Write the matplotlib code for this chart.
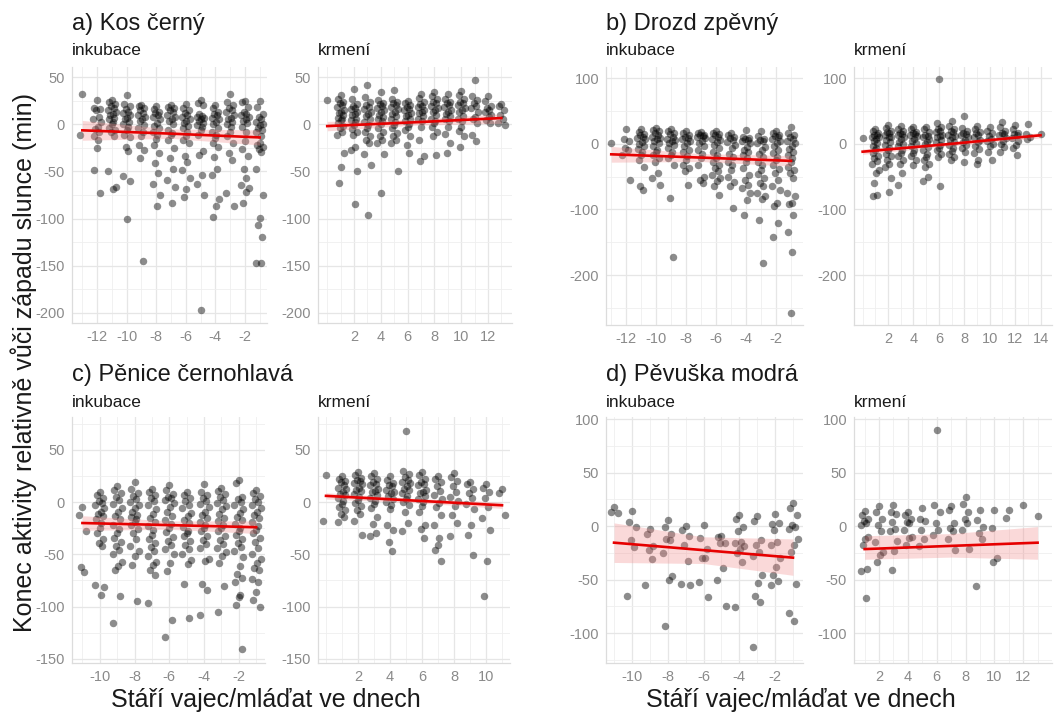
import matplotlib
matplotlib.use('Agg')
import matplotlib.pyplot as plt

W, H = 1054, 715
plt.rcParams['font.family'] = ['Liberation Sans', 'DejaVu Sans']
plt.rcParams['axes.unicode_minus'] = False

# ---------------- data (y values per day) ----------------
A_INK = {
    -13: [32, -11],
    -12: [26, 17, 16, 15, 8, 5, 2, -3, -5, -8, -13, -17, -25, -48, -73],
    -11: [26, 24, 21, 19, 17, 15, 13, 11, 10, 7, 5, 2, 0, -4, -6, -8, -13, -50, -66, -69],
    -10: [31, 21, 19, 16, 13, 12, 10, 7, 5, 2, 0, -3, -6, -11, -14, -24, -28, -55, -60, -100],
    -9: [20, 19, 17, 15, 12, 10, 8, 5, 3, -1, -4, -8, -13, -22, -27, -36, -145],
    -8: [19, 16, 13, 12, 10, 8, 5, 1, -2, -4, -8, -11, -16, -22, -30, -41, -52, -63, -75, -87],
    -7: [20, 18, 17, 15, 13, 10, 8, 5, 3, 0, -6, -9, -11, -17, -25, -36, -47, -59, -66, -84],
    -6: [21, 17, 15, 12, 10, 8, 5, 3, 1, -2, -4, -8, -13, -17, -20, -34, -40, -48, -57, -69, -77],
    -5: [26, 22, 20, 11, 9, 8, 7, 5, 3, 1, -1, -3, -6, -11, -28, -33, -54, -63, -75, -197],
    -4: [20, 17, 13, 11, 10, 7, 5, 2, 0, -4, -8, -11, -15, -20, -24, -35, -47, -54, -79, -87, -98],
    -3: [32, 24, 20, 17, 15, 13, 10, 7, 5, 2, 0, -3, -8, -13, -20, -31, -38, -73, -87],
    -2: [25, 23, 18, 13, 11, 10, 8, 6, 3, 1, -3, -8, -18, -26, -34, -47, -57, -64, -68, -72, -83],
    -1: [25, 18, 11, 8, 5, 2, 0, -1, -4, -6, -8, -13, -20, -22, -24, -26, -29, -47, -75, -99, -107, -119, -147, -147],
}
A_KRM = {
    0: [26],
    1: [31, 27, 24, 22, 20, 18, 15, 13, 12, 10, 7, 5, 4, 1, -2, -4, -8, -11, -30, -45, -62],
    2: [37, 27, 21, 19, 17, 16, 13, 11, 10, 6, 4, 2, -1, -5, -8, -11, -24, -27, -50, -85],
    3: [42, 29, 24, 20, 18, 16, 13, 11, 9, 6, 2, -1, -4, -8, -13, -17, -20, -32, -43, -96],
    4: [34, 26, 22, 21, 19, 17, 15, 13, 10, 8, 6, 3, 0, -4, -8, -13, -17, -20, -32, -73],
    5: [36, 27, 24, 22, 20, 18, 16, 13, 11, 9, 5, 2, -1, -4, -9, -13, -17, -20, -50],
    6: [25, 22, 20, 18, 16, 15, 12, 10, 9, 6, 3, 0, -3, -6, -13, -22, -30],
    7: [32, 28, 24, 21, 19, 18, 15, 13, 12, 9, 6, 3, -3, -17, -34, -39],
    8: [34, 30, 27, 24, 22, 19, 17, 15, 13, 10, 6, 3, 1, -3, -8, -13, -33],
    9: [32, 27, 24, 22, 20, 18, 15, 13, 11, 9, 6, 3, -3, -10, -20, -31],
    10: [35, 31, 27, 24, 22, 20, 17, 15, 13, 9, 6, 3, -3, -7, -12, -24],
    11: [47, 30, 26, 22, 19, 17, 13, 8, 5, 1, -11, -18],
    12: [30, 25, 19, 17, 15, 13, 10, 8, 4, 1],
    13: [21, 19, 15, 10, 6, 1, -1],
}
B_INK = {
    -13: [1],
    -12: [22, 8, 5, -7, -10, -17, -55],
    -11: [22, 18, 15, 13, 11, 9, 7, 3, 0, -4, -8, -12, -17, -25, -35, -65, -70],
    -10: [24, 21, 19, 17, 14, 11, 9, 7, 4, 1, -3, -9, -13, -17, -22, -27, -45, -52, -63],
    -9: [22, 19, 17, 15, 11, 8, 6, 4, 1, -2, -6, -12, -17, -22, -32, -83, -173],
    -8: [20, 17, 14, 11, 9, 7, 4, 1, -3, -9, -13, -19, -24, -32, -37, -42, -63],
    -7: [18, 16, 14, 13, 12, 11, 9, 5, 1, -3, -9, -16, -22, -32, -50, -55, -60],
    -6: [20, 17, 15, 13, 10, 8, 6, 2, -2, -7, -12, -17, -22, -27, -32, -37, -42, -48, -52, -57, -65, -78],
    -5: [17, 13, 11, 9, 6, 2, -2, -7, -15, -20, -27, -33, -40, -50, -58, -65, -98],
    -4: [21, 10, 9, 8, 6, 5, 1, -5, -9, -13, -17, -22, -27, -37, -48, -55, -63, -68, -75, -85, -108],
    -3: [19, 12, 8, 6, 4, 1, -5, -10, -15, -20, -27, -33, -40, -46, -52, -60, -65, -75, -80, -84, -116, -182],
    -2: [20, 16, 14, 12, 10, 8, 4, 1, -4, -9, -14, -20, -25, -32, -38, -45, -55, -65, -70, -90, -94, -120, -142],
    -1: [26, 17, 13, 10, 8, 5, 1, -3, -8, -12, -17, -22, -27, -35, -40, -45, -52, -75, -80, -90, -92, -108, -134, -165, -257],
}
B_KRM = {
    0: [9],
    1: [22, 19, 16, 14, 13, 11, 10, 7, 4, 1, -3, -6, -10, -14, -18, -22, -26, -30, -40, -45, -60, -78, -80],
    2: [28, 24, 20, 18, 16, 13, 11, 10, 6, 2, -2, -6, -10, -15, -19, -25, -30, -35, -52, -73],
    3: [27, 23, 19, 17, 15, 13, 11, 7, 3, 0, -4, -9, -14, -19, -24, -30, -45, -62],
    4: [26, 22, 18, 16, 15, 13, 12, 8, 4, 1, -3, -9, -14, -19, -25, -32],
    5: [25, 22, 18, 14, 12, 10, 7, 3, -1, -5, -10, -15, -20, -25, -30, -35, -50, -57],
    6: [99, 31, 26, 22, 20, 18, 14, 12, 10, 6, 2, -2, -6, -10, -15, -20, -65],
    7: [35, 27, 22, 20, 18, 14, 12, 10, 6, 2, -2, -6, -11, -15, -20, -25],
    8: [43, 24, 20, 17, 15, 14, 10, 6, 2, -2, -7, -12, -27],
    9: [27, 22, 18, 16, 14, 10, 6, 2, -3, -8, -14, -25, -31],
    10: [25, 20, 16, 12, 8, 4, 0, -4, -12, -25],
    11: [33, 26, 20, 17, 15, 13, 9, 4, 0, -5, -12],
    12: [29, 22, 17, 15, 13, 9, 4, -2, -7, -17],
    13: [30, 15, 11, 8],
    14: [15],
}
C_INK = {
    -11: [-5, -12, -28, -62, -67],
    -10: [10, 7, 4, 1, -1, -3, -6, -9, -11, -13, -16, -20, -25, -30, -35, -39, -42, -79, -81, -89],
    -9: [15, 12, 9, 5, 2, -2, -6, -9, -13, -16, -22, -26, -30, -34, -38, -42, -46, -50, -57, -61, -65, -90, -116],
    -8: [19, 13, 9, 6, 3, 0, -3, -6, -9, -12, -14, -16, -19, -22, -26, -30, -35, -42, -47, -52, -60, -95],
    -7: [13, 10, 7, 4, 1, -3, -7, -11, -15, -19, -23, -27, -31, -35, -39, -43, -47, -52, -57, -60, -65, -70, -97],
    -6: [16, 12, 8, 5, 4, 2, -1, -5, -9, -13, -17, -21, -25, -29, -33, -37, -41, -45, -50, -58, -66, -113, -129],
    -5: [10, 7, 4, 1, -3, -6, -10, -13, -17, -20, -24, -28, -30, -32, -37, -41, -45, -50, -55, -59, -78, -111],
    -4: [17, 10, 7, 4, 1, -2, -5, -9, -12, -15, -19, -22, -25, -28, -32, -36, -40, -44, -54, -56, -78, -84, -108],
    -3: [14, 11, 8, 5, 2, -1, -4, -7, -11, -15, -18, -22, -25, -28, -32, -36, -40, -44, -48, -52, -58, -80, -105],
    -2: [21, 18, 5, 3, 0, -3, -7, -10, -14, -17, -21, -25, -28, -31, -35, -39, -43, -47, -53, -61, -69, -73, -76, -89, -91, -98, -141],
    -1: [12, 9, 6, 3, 0, -3, -6, -9, -12, -15, -19, -23, -27, -30, -34, -38, -44, -50, -54, -58, -63, -65, -74, -76, -86, -94, -100],
}
C_KRM = {
    0: [26, -18],
    1: [25, 22, 20, 19, 16, 14, 13, 10, 8, 7, 4, 1, -2, -5, -8, -11, -14, -19],
    2: [29, 26, 23, 21, 20, 18, 17, 14, 12, 11, 8, 5, 2, -1, -4, -8, -11, -18, -31],
    3: [28, 25, 22, 19, 17, 16, 13, 11, 10, 7, 4, 1, -2, -6, -14, -21, -30, -32],
    4: [25, 21, 18, 16, 15, 12, 10, 9, 6, 3, 0, -3, -7, -22, -27, -38, -47],
    5: [68, 30, 27, 24, 21, 19, 18, 15, 13, 12, 9, 6, 3, 0, -3, -9, -20, -28],
    6: [29, 26, 22, 19, 17, 16, 12, 10, 9, 6, 3, 0, -4, -9, -22, -26, -34],
    7: [25, 22, 19, 15, 11, 7, 3, -1, -5, -12, -22, -34, -41, -46, -56],
    8: [28, 24, 20, 15, 10, 5, 1, -4, -12, -20, -32],
    9: [19, 17, 13, 9, 4, -2, -7, -22, -31, -51],
    10: [17, 14, 10, 4, -5, -15, -27, -56, -90],
    11: [13, 9, -12],
}
D_INK = {
    -11: [18, 13, 12],
    -10: [14, 4, -1, -13, -20, -65],
    -9: [-3, -7, -19, -22, -31, -55],
    -8: [6, -1, -7, -12, -13, -25, -47, -50, -93],
    -7: [0, -4, -9, -18, -33, -54, -55],
    -6: [1, -11, -21, -30, -30, -52, -66],
    -5: [-9, -10, -16, -16, -39, -50, -75],
    -4: [10, 7, -1, -5, -15, -16, -19, -21, -25, -34, -76],
    -3: [9, 5, -13, -18, -24, -28, -46, -53, -65, -71, -113],
    -2: [11, 2, 3, -4, -15, -18, -30, -38, -46, -51, -55],
    -1: [22, 17, 10, 1, -1, -3, -12, -18, -24, -54, -81, -89],
}
D_KRM = {
    1: [14, 10, 7, 5, 3, 1, -10, -12, -18, -40, -42, -67],
    2: [19, 13, 7, 1, -5, -15, -24, -27, -34],
    3: [20, 13, 11, 4, -3, -5, -14, -23, -41],
    4: [13, 10, 7, 4, 3, -4, -10, -11, -18],
    5: [17, 7, 5, -4, -12, -19],
    6: [90, 20, 13, 3, -4, -8],
    7: [19, 15, 3, -2, -5, -12, -22],
    8: [27, 21, 13, 7, 3, -4, -21],
    9: [15, 6, -1, -6, -12, -56],
    10: [15, -2, -30, -34],
    11: [15, 8],
    12: [20],
    13: [9],
}

# model fits: x, fitted value, lower, upper
FIT_A_INK = ([-13, -7, -1], [-6.5, -10, -14], [-17, -15, -22], [4, -5, -6])
FIT_A_KRM = ([0, 6.5, 13], [-2, 2, 6.5], [-7, -1, 1], [3, 5, 11])
FIT_B_INK = ([-13, -7, -1], [-16, -21, -26], [-28, -27, -34], [-4, -15, -18])
FIT_B_KRM = ([0, 7, 14], [-12, 0, 13], [-16, -3, 9], [-8, 3, 17])
FIT_C_INK = ([-11, -6, -1], [-20, -22, -24], [-27, -26, -30], [-13, -18, -18])
FIT_C_KRM = ([0, 5.5, 11], [6, 1.5, -3], [3, -0.5, -6], [9, 3.5, 0])
FIT_D_INK = ([-11, -6, -1], [-15.5, -22.5, -29.5], [-34, -35, -46], [3, -10, -12])
FIT_D_KRM = ([1, 7, 13], [-21.5, -18.5, -15.5], [-31, -29, -31], [-9, -7, -0.5])

TITLES = ['a) Kos černý', 'b) Drozd zpěvný', 'c) Pěnice černohlavá', 'd) Pěvuška modrá']
FACETS = ['inkubace', 'krmení']
YLABEL = 'Konec aktivity relativně vůči západu slunce (min)'
XLABEL = 'Stáří vajec/mláďat ve dnech'

JIT = [0.0, -0.18, 0.2, -0.07, 0.11, -0.25, 0.26, 0.05, -0.13, 0.16, -0.22, 0.08]

fig = plt.figure(figsize=(W / 100, H / 100), dpi=100)


def add_ax(l, r, t, b):
    return fig.add_axes([l / W, 1 - b / H, (r - l) / W, (b - t) / H])


def facet(ax, data, fit, xlim, ylim, xticks, yticks, yminor):
    xs, ys = [], []
    for d, vals in data.items():
        for i, v in enumerate(vals):
            xs.append(d + JIT[i % len(JIT)])
            ys.append(v)
    ax.set_xlim(*xlim)
    ax.set_ylim(*ylim)
    for xv in range(int(xlim[0]) - 1, int(xlim[1]) + 2):
        if xlim[0] < xv < xlim[1]:
            if xv in xticks:
                ax.axvline(xv, color='#e6e6e6', lw=0.9, zorder=0)
            else:
                ax.axvline(xv, color='#efefef', lw=0.6, zorder=0)
    for yv in yticks:
        ax.axhline(yv, color='#e6e6e6', lw=0.9, zorder=0)
    for yv in yminor:
        if ylim[0] < yv < ylim[1]:
            ax.axhline(yv, color='#efefef', lw=0.6, zorder=0)
    ax.scatter(xs, ys, s=29, color='black', alpha=0.45, linewidths=0, zorder=2)
    fx, fy, flo, fhi = fit
    ax.fill_between(fx, flo, fhi, color='#f28a8a', alpha=0.32, linewidth=0, zorder=3)
    ax.plot(fx, fy, color='#e60000', lw=1.9, zorder=4)
    ax.set_xticks(xticks)
    ax.set_xticklabels([str(t) for t in xticks])
    ax.set_yticks(yticks)
    ax.set_yticklabels([str(t) for t in yticks])
    ax.tick_params(length=0, labelsize=10.5, labelcolor='#8a8a8a', pad=5)
    for s in ['top', 'right']:
        ax.spines[s].set_visible(False)
    for s in ['left', 'bottom']:
        ax.spines[s].set_color('#dcdcdc')
        ax.spines[s].set_linewidth(0.9)
    ax.set_facecolor('white')


# panel a
yl_a = (-210.6, 60.6)
yt_a = [50, 0, -50, -100, -150, -200]
ym_a = [25, -25, -75, -125, -175]
ax = add_ax(72, 267, 67, 323)
facet(ax, A_INK, FIT_A_INK, (-13.7, -0.5), yl_a, [-12, -10, -8, -6, -4, -2], yt_a, ym_a)
ax = add_ax(318, 512, 67, 323)
facet(ax, A_KRM, FIT_A_KRM, (-0.69, 13.8), yl_a, [2, 4, 6, 8, 10, 12], yt_a, ym_a)

# panel b
yl_b = (-276, 117)
yt_b = [100, 0, -100, -200]
ym_b = [50, -50, -150, -250]
ax = add_ax(606, 803, 67, 325)
facet(ax, B_INK, FIT_B_INK, (-13.35, -0.2), yl_b, [-12, -10, -8, -6, -4, -2], yt_b, ym_b)
ax = add_ax(854, 1052, 67, 325)
facet(ax, B_KRM, FIT_B_KRM, (-0.68, 14.9), yl_b, [2, 4, 6, 8, 10, 12, 14], yt_b, ym_b)

# panel c
yl_c = (-154, 81.5)
yt_c = [50, 0, -50, -100, -150]
ym_c = [75, 25, -25, -75, -125]
ax = add_ax(72, 265, 417, 663)
facet(ax, C_INK, FIT_C_INK, (-11.6, -0.49), yl_c, [-10, -8, -6, -4, -2], yt_c, ym_c)
ax = add_ax(318, 510, 417, 663)
facet(ax, C_KRM, FIT_C_KRM, (-0.5, 11.5), yl_c, [2, 4, 6, 8, 10], yt_c, ym_c)

# panel d
yl_d = (-128, 102)
yt_d = [100, 50, 0, -50, -100]
ym_d = [75, 25, -25, -75, -125]
ax = add_ax(606, 803, 417, 663)
facet(ax, D_INK, FIT_D_INK, (-11.45, -0.44), yl_d, [-10, -8, -6, -4, -2], yt_d, ym_d)
ax = add_ax(854, 1052, 417, 663)
facet(ax, D_KRM, FIT_D_KRM, (0.26, 14.0), yl_d, [2, 4, 6, 8, 10, 12], yt_d, ym_d)

# titles and facet labels
for (x0, x1, ybase_t, ybase_f), title in zip(
        [(72, 318, 30, 55), (606, 854, 30, 55), (72, 318, 381, 407), (606, 854, 381, 407)], TITLES):
    fig.text(x0 / W, 1 - ybase_t / H, title, fontsize=17, color='#1a1a1a', va='baseline', ha='left')
    fig.text(x0 / W, 1 - ybase_f / H, FACETS[0], fontsize=12.5, color='#1a1a1a', va='baseline', ha='left')
    fig.text(x1 / W, 1 - ybase_f / H, FACETS[1], fontsize=12.5, color='#1a1a1a', va='baseline', ha='left')

fig.text(24 / W, 1 - 362 / H, YLABEL, rotation=90, fontsize=18, ha='center', va='center', color='#1a1a1a')
fig.text(266 / W, 1 - 707 / H, XLABEL, fontsize=18, ha='center', va='baseline', color='#1a1a1a')
fig.text(801 / W, 1 - 707 / H, XLABEL, fontsize=18, ha='center', va='baseline', color='#1a1a1a')

fig.savefig('out.png', dpi=100, facecolor='white')
